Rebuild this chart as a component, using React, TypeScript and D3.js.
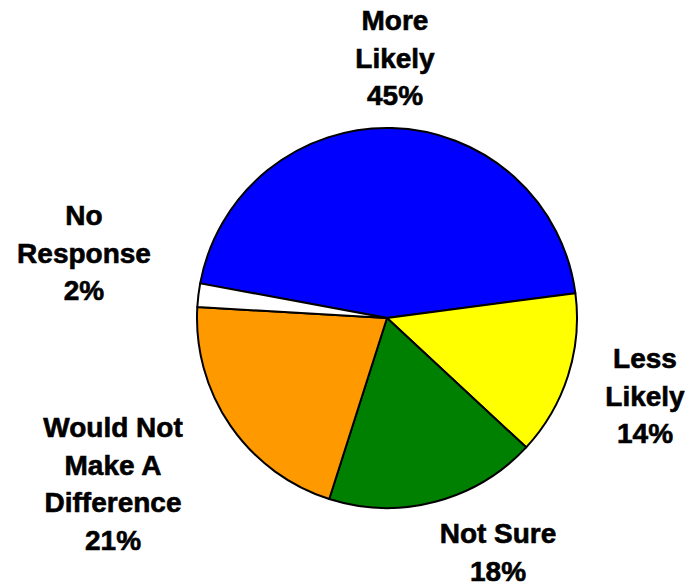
import React from "react";
import * as d3 from "d3";

const categories = ["More Likely", "Less Likely", "Not Sure", "Would Not Make A Difference", "No Response"];
const values = [45, 14, 18, 21, 2];
const colors = ["#0000FF", "#FFFF00", "#008000", "#FF9900", "#FFFFFF"];
const labelLines = [
  ["More", "Likely", "45%"],
  ["Less", "Likely", "14%"],
  ["Not Sure", "18%"],
  ["Would Not", "Make A", "Difference", "21%"],
  ["No", "Response", "2%"],
];
// label anchor (center x, first baseline y) relative to pie center
const labelAnchors = [
  [8, -288],
  [258, 50],
  [111, 225],
  [-274, 119],
  [-303, -93],
];

const W = 689;
const H = 585;
const cx = 387;
const cy = 318;
const R = 190;
const lineGap = 37.5;

export default function App() {
  const pie = d3
    .pie<number>()
    .sort(null)
    .value((d) => d)
    .startAngle((-79.5 * Math.PI) / 180)
    .endAngle((-79.5 * Math.PI) / 180 + 2 * Math.PI);
  const arcs = pie(values);
  const arc = d3.arc<d3.PieArcDatum<number>>().innerRadius(0).outerRadius(R);

  return (
    <svg
      width={W}
      height={H}
      style={{ position: "absolute", left: 0, top: 0 }}
      fontFamily="'Liberation Sans', Arial, sans-serif"
    >
      <rect width={W} height={H} fill="#fff" />
      <g transform={`translate(${cx},${cy})`}>
        {arcs.map((a, i) => (
          <path key={categories[i]} d={arc(a) || ""} fill={colors[i]} stroke="#000" strokeWidth={2} strokeLinejoin="round" />
        ))}
        {labelLines.map((lines, i) => (
          <g key={"l" + i} transform={`translate(${labelAnchors[i][0]},${labelAnchors[i][1]})`}>
            <text textAnchor="middle" fontSize={28} fontWeight="bold" fill="#000" stroke="#000" strokeWidth={0.6}>
              {lines.map((ln, j) => (
                <tspan key={j} x={0} y={j * lineGap}>
                  {ln}
                </tspan>
              ))}
            </text>
          </g>
        ))}
      </g>
    </svg>
  );
}
